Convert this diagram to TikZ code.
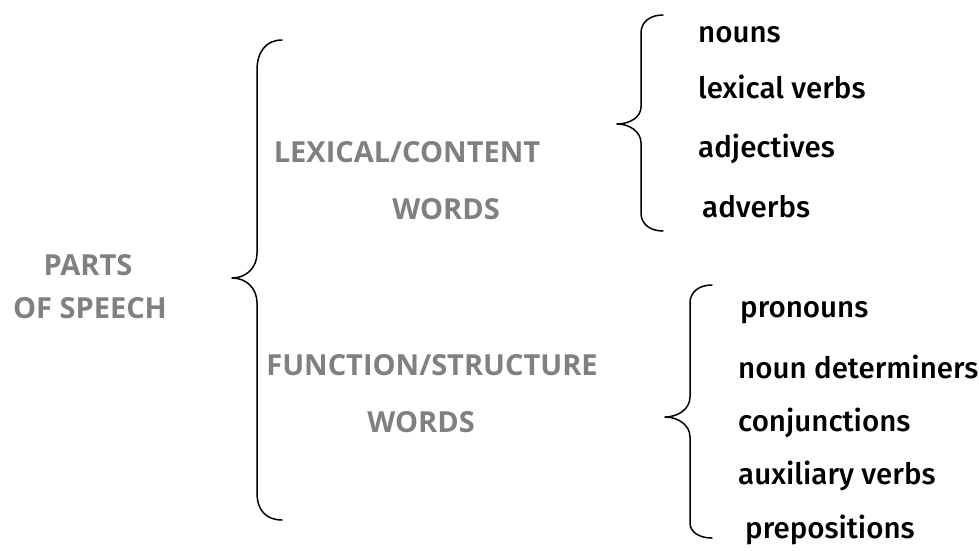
\documentclass[tikz,border=0pt]{standalone}
\usepackage{fontspec}
\setmainfont{Fira Sans}[UprightFont=* Medium]
\newfontfamily\headfont{Open Sans}
\definecolor{headgray}{HTML}{808080}
\begin{document}
\begin{tikzpicture}[x=1pt,y=-1pt,
    head/.style={anchor=base,inner sep=0pt,text=headgray,font=\headfont\bfseries\fontsize{29}{32}\selectfont},
    item/.style={anchor=base west,inner sep=0pt,font=\fontsize{29.5}{32}\selectfont},
    brace line/.style={line width=1.5pt,line cap=round,line join=round}]
  \useasboundingbox (0,0) rectangle (979,551);
  \draw
    (88,275) node[head] (parts){PARTS}
    (90,318) node[head] (speech){OF SPEECH}
    (407,162) node[head] (lex){LEXICAL/CONTENT}
    (446,219) node[head] (lexw){WORDS}
    (432,375) node[head] (fun){FUNCTION/STRUCTURE}
    (421,432) node[head] (funw){WORDS};
  \draw
    (698,43) node[item] (n1){nouns}
    (698,98) node[item] (n2){lexical verbs}
    (698,157) node[item] (n3){adjectives}
    (702,217) node[item] (n4){adverbs}
    (740,317) node[item] (f1){pronouns}
    (738,378) node[item] (f2){noun determiners}
    (738,431) node[item] (f3){conjunctions}
    (738,484) node[item] (f4){auxiliary verbs}
    (745,538) node[item] (f5){prepositions};
  \begin{scope}[brace line]
    \draw (282,40) .. controls (266,40) and (257,52) .. (257,70)
      -- (257,253) .. controls (257,268) and (246,278) .. (232,278)
      .. controls (246,278) and (257,288) .. (257,303)
      -- (257,493) .. controls (257,510) and (266,520) .. (282,520);
    \draw (663,15) .. controls (650,15) and (641,22) .. (641,33)
      -- (641,107) .. controls (641,117) and (630,124) .. (617,124)
      .. controls (630,124) and (641,132) .. (641,143)
      -- (641,213) .. controls (641,224) and (650,231) .. (663,231);
    \draw (712,285) .. controls (699,285) and (690,292) .. (690,303)
      -- (690,397) .. controls (690,409) and (678,417) .. (665,417)
      .. controls (678,417) and (690,425) .. (690,437)
      -- (690,523) .. controls (690,532) and (699,538) .. (712,538);
  \end{scope}
\end{tikzpicture}
\end{document}
